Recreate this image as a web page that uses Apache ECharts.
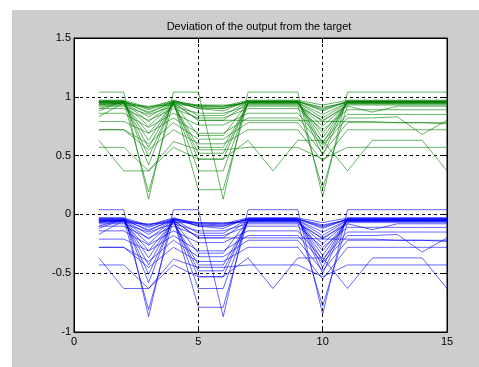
<!DOCTYPE html>
<html>
<head>
<meta charset="utf-8">
<script src="https://cdn.jsdelivr.net/npm/echarts@6/dist/echarts.min.js"></script>
<style>
  html, body { margin: 0; padding: 0; background: #fff; }
  #bg { position: absolute; left: 12px; top: 10px; right: 0; bottom: 0; background: #cdcdcd; }
  #chart01 { position: absolute; left: 0; top: 0; width: 479px; height: 367px; }
</style>
</head>
<body>
<div id="bg"></div>
<div id="chart01"></div>
<script>
// x positions (samples)
var xs = [1, 2, 3, 4, 5, 6, 7, 8, 9, 10, 11, 12, 13, 14, 15];
var xTicks = [0, 5, 10, 15];
var yTicks = [-1, -0.5, 0, 0.5, 1, 1.5];

// outputs (green, around 1)
var outputLines = [
  [1.04,1.04,0.13,1.04,1.04,0.13,1.04,1.04,1.04,0.15,1.04,1.04,1.04,1.04,1.04],
  [0.97,0.97,0.91,0.97,0.92,0.92,0.97,0.97,0.97,0.93,0.97,0.97,0.97,0.97,0.97],
  [0.96,0.96,0.89,0.96,0.90,0.90,0.96,0.96,0.96,0.90,0.96,0.96,0.96,0.96,0.96],
  [0.88,0.96,0.86,0.96,0.84,0.84,0.96,0.96,0.96,0.88,0.96,0.96,0.96,0.96,0.96],
  [0.95,0.95,0.83,0.95,0.80,0.80,0.95,0.95,0.95,0.85,0.95,0.95,0.95,0.95,0.95],
  [0.95,0.95,0.79,0.95,0.67,0.67,0.95,0.95,0.95,0.82,0.95,0.95,0.95,0.95,0.95],
  [0.94,0.94,0.75,0.94,0.57,0.57,0.94,0.94,0.94,0.79,0.94,0.94,0.94,0.94,0.94],
  [0.94,0.94,0.69,0.94,0.52,0.52,0.94,0.94,0.94,0.75,0.94,0.94,0.94,0.94,0.94],
  [0.83,0.95,0.63,0.95,0.47,0.47,0.95,0.95,0.95,0.69,0.95,0.95,0.95,0.95,0.95],
  [0.95,0.95,0.57,0.95,0.37,0.37,0.95,0.95,0.95,0.65,0.95,0.95,0.95,0.95,0.95],
  [0.96,0.96,0.49,0.96,0.21,0.21,0.96,0.96,0.96,0.60,0.96,0.96,0.96,0.96,0.96],
  [0.97,0.97,0.42,0.97,0.90,0.88,0.97,0.97,0.97,0.55,0.97,0.97,0.97,0.97,0.97],
  [0.96,0.96,0.19,0.96,0.92,0.91,0.96,0.96,0.96,0.50,0.96,0.96,0.96,0.96,0.96],
  [0.93,0.93,0.92,0.93,0.93,0.93,0.93,0.93,0.93,0.22,0.93,0.93,0.93,0.93,0.93],
  [0.90,0.90,0.80,0.90,0.82,0.82,0.90,0.90,0.90,0.72,0.89,0.89,0.89,0.89,0.89],
  [0.86,0.86,0.74,0.86,0.76,0.76,0.86,0.86,0.86,0.62,0.85,0.85,0.85,0.85,0.85],
  [0.79,0.79,0.69,0.82,0.69,0.69,0.82,0.82,0.82,0.59,0.82,0.82,0.83,0.68,0.80],
  [0.72,0.72,0.60,0.78,0.64,0.64,0.78,0.78,0.78,0.52,0.78,0.78,0.78,0.78,0.78],
  [0.72,0.72,0.55,0.72,0.60,0.60,0.72,0.72,0.72,0.45,0.72,0.72,0.72,0.72,0.72],
  [0.63,0.37,0.37,0.57,0.47,0.47,0.63,0.37,0.63,0.63,0.37,0.63,0.63,0.63,0.37],
  [0.57,0.57,0.37,0.62,0.55,0.55,0.57,0.57,0.57,0.47,0.57,0.57,0.57,0.57,0.57],
  [0.92,0.92,0.85,0.92,0.86,0.86,0.92,0.92,0.92,0.80,0.92,0.87,0.92,0.92,0.92],
  [0.95,0.95,0.87,0.95,0.80,0.80,0.80,0.80,0.80,0.79,0.79,0.79,0.78,0.78,0.77],
  [0.93,0.95,0.91,0.96,0.93,0.92,0.95,0.96,0.96,0.91,0.95,0.95,0.95,0.95,0.95],
  [0.90,0.96,0.90,0.95,0.91,0.90,0.96,0.96,0.96,0.89,0.96,0.96,0.96,0.96,0.96]
];

// deviations (blue, around 0)
var deviationLines = [
  [0.04,0.04,-0.87,0.04,0.04,-0.87,0.04,0.04,0.04,-0.85,0.04,0.04,0.04,0.04,0.04],
  [-0.03,-0.03,-0.09,-0.03,-0.08,-0.08,-0.03,-0.03,-0.03,-0.07,-0.03,-0.03,-0.03,-0.03,-0.03],
  [-0.04,-0.04,-0.11,-0.04,-0.10,-0.10,-0.04,-0.04,-0.04,-0.10,-0.04,-0.04,-0.04,-0.04,-0.04],
  [-0.12,-0.04,-0.14,-0.04,-0.16,-0.16,-0.04,-0.04,-0.04,-0.12,-0.04,-0.04,-0.04,-0.04,-0.04],
  [-0.05,-0.05,-0.17,-0.05,-0.20,-0.20,-0.05,-0.05,-0.05,-0.15,-0.05,-0.05,-0.05,-0.05,-0.05],
  [-0.05,-0.05,-0.21,-0.05,-0.33,-0.33,-0.05,-0.05,-0.05,-0.18,-0.05,-0.05,-0.05,-0.05,-0.05],
  [-0.06,-0.06,-0.25,-0.06,-0.43,-0.43,-0.06,-0.06,-0.06,-0.21,-0.06,-0.06,-0.06,-0.06,-0.06],
  [-0.06,-0.06,-0.31,-0.06,-0.48,-0.48,-0.06,-0.06,-0.06,-0.25,-0.06,-0.06,-0.06,-0.06,-0.06],
  [-0.17,-0.05,-0.37,-0.05,-0.53,-0.53,-0.05,-0.05,-0.05,-0.31,-0.05,-0.05,-0.05,-0.05,-0.05],
  [-0.05,-0.05,-0.43,-0.05,-0.63,-0.63,-0.05,-0.05,-0.05,-0.35,-0.05,-0.05,-0.05,-0.05,-0.05],
  [-0.04,-0.04,-0.51,-0.04,-0.79,-0.79,-0.04,-0.04,-0.04,-0.40,-0.04,-0.04,-0.04,-0.04,-0.04],
  [-0.03,-0.03,-0.58,-0.03,-0.10,-0.12,-0.03,-0.03,-0.03,-0.45,-0.03,-0.03,-0.03,-0.03,-0.03],
  [-0.04,-0.04,-0.81,-0.04,-0.08,-0.09,-0.04,-0.04,-0.04,-0.50,-0.04,-0.04,-0.04,-0.04,-0.04],
  [-0.07,-0.07,-0.08,-0.07,-0.07,-0.07,-0.07,-0.07,-0.07,-0.78,-0.07,-0.07,-0.07,-0.07,-0.07],
  [-0.10,-0.10,-0.20,-0.10,-0.18,-0.18,-0.10,-0.10,-0.10,-0.28,-0.11,-0.11,-0.11,-0.11,-0.11],
  [-0.14,-0.14,-0.26,-0.14,-0.24,-0.24,-0.14,-0.14,-0.14,-0.38,-0.15,-0.15,-0.15,-0.15,-0.15],
  [-0.21,-0.21,-0.31,-0.18,-0.31,-0.31,-0.18,-0.18,-0.18,-0.41,-0.18,-0.18,-0.17,-0.32,-0.20],
  [-0.28,-0.28,-0.40,-0.22,-0.36,-0.36,-0.22,-0.22,-0.22,-0.48,-0.22,-0.22,-0.22,-0.22,-0.22],
  [-0.28,-0.28,-0.45,-0.28,-0.40,-0.40,-0.28,-0.28,-0.28,-0.55,-0.28,-0.28,-0.28,-0.28,-0.28],
  [-0.37,-0.63,-0.63,-0.43,-0.53,-0.53,-0.37,-0.63,-0.37,-0.37,-0.63,-0.37,-0.37,-0.37,-0.63],
  [-0.43,-0.43,-0.63,-0.38,-0.45,-0.45,-0.43,-0.43,-0.43,-0.53,-0.43,-0.43,-0.43,-0.43,-0.43],
  [-0.08,-0.08,-0.15,-0.08,-0.14,-0.14,-0.08,-0.08,-0.08,-0.20,-0.08,-0.13,-0.08,-0.08,-0.08],
  [-0.05,-0.05,-0.13,-0.05,-0.20,-0.20,-0.20,-0.20,-0.20,-0.21,-0.21,-0.21,-0.22,-0.22,-0.23],
  [-0.07,-0.05,-0.09,-0.04,-0.07,-0.08,-0.05,-0.04,-0.04,-0.09,-0.05,-0.05,-0.05,-0.05,-0.05],
  [-0.10,-0.04,-0.10,-0.05,-0.09,-0.10,-0.04,-0.04,-0.04,-0.11,-0.04,-0.04,-0.04,-0.04,-0.04]
];

function toPoints(values) {
  return xs.map(function (x, i) { return [x, values[i]]; });
}

var series = [];
outputLines.forEach(function (line) {
  series.push({
    type: 'line',
    data: toPoints(line),
    symbol: 'none',
    silent: true,
    xAxisIndex: 0,
    yAxisIndex: 0,
    lineStyle: { color: '#008000', width: 1, opacity: 0.6 }
  });
});
deviationLines.forEach(function (line) {
  series.push({
    type: 'line',
    data: toPoints(line),
    symbol: 'none',
    silent: true,
    xAxisIndex: 0,
    yAxisIndex: 0,
    lineStyle: { color: '#0000ff', width: 1, opacity: 0.6 }
  });
});

var labelFont = { color: '#000', fontSize: 11, fontFamily: 'Liberation Sans' };
var dashed = { show: true, lineStyle: { color: '#000', width: 1, type: [3, 3] } };
var tickIn = { show: true, inside: true, length: 5, lineStyle: { color: '#000' } };
var axisBlack = { show: true, onZero: false, lineStyle: { color: '#000' } };

var chart01 = echarts.init(document.getElementById('chart01'), null, { renderer: 'canvas' });
var option = {
  animation: false,
  backgroundColor: 'transparent',
  graphic: [{
    type: 'text',
    x: 259,
    y: 27,
    style: {
      text: 'Deviation of the output from the target',
      fill: '#000',
      font: '11px "Liberation Sans"',
      textAlign: 'center',
      textVerticalAlign: 'middle'
    }
  }],
  grid: {
    left: 74, right: 32, top: 38, bottom: 35,
    show: true,
    backgroundColor: '#fff',
    borderColor: '#000',
    borderWidth: 1
  },
  xAxis: [{
    type: 'value',
    min: xTicks[0], max: xTicks[xTicks.length - 1], interval: 5,
    position: 'bottom',
    axisLine: axisBlack,
    axisTick: tickIn,
    axisLabel: Object.assign({ margin: 4 }, labelFont),
    splitLine: dashed
  }, {
    type: 'value',
    min: xTicks[0], max: xTicks[xTicks.length - 1], interval: 5,
    position: 'top',
    axisLine: axisBlack,
    axisTick: tickIn,
    axisLabel: { show: false },
    splitLine: { show: false }
  }],
  yAxis: [{
    type: 'value',
    min: yTicks[0], max: yTicks[yTicks.length - 1], interval: 0.5,
    position: 'left',
    axisLine: axisBlack,
    axisTick: tickIn,
    axisLabel: Object.assign({ margin: 3 }, labelFont),
    splitLine: dashed
  }, {
    type: 'value',
    min: yTicks[0], max: yTicks[yTicks.length - 1], interval: 0.5,
    position: 'right',
    axisLine: axisBlack,
    axisTick: tickIn,
    axisLabel: { show: false },
    splitLine: { show: false }
  }],
  series: series
};
chart01.setOption(option);
</script>
</body>
</html>
